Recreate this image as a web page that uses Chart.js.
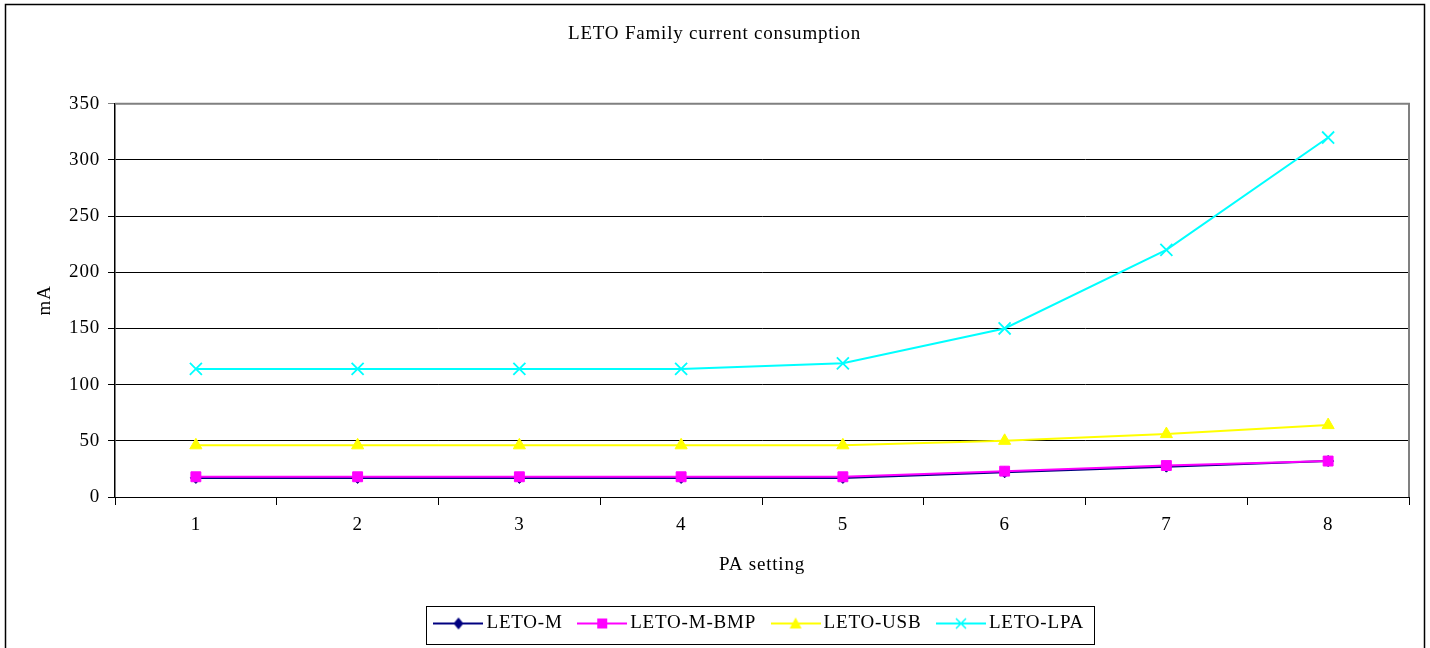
<!DOCTYPE html>
<html>
<head>
<meta charset="utf-8">
<script src="https://cdn.jsdelivr.net/npm/chart.js@4.4.0/dist/chart.umd.min.js"></script>
<style>
  html, body { margin: 0; padding: 0; background: #fff; overflow: hidden; }
  #wrap { position: absolute; left: 0; top: 0; width: 1430px; height: 648px; }
</style>
</head>
<body>
<div id="wrap"><canvas id="chart" width="1430" height="648"></canvas></div>
<script>
const categories = ['1', '2', '3', '4', '5', '6', '7', '8'];
const letoM    = [17, 17, 17, 17, 17, 22, 27, 32];
const letoMBmp = [18, 18, 18, 18, 18, 23, 28, 32];
const letoUsb  = [46, 46, 46, 46, 46, 50, 56, 64];
const letoLpa  = [114, 114, 114, 114, 119, 150, 220, 320];
const yTicks = [0, 50, 100, 150, 200, 250, 300, 350];

const FONT = 'Liberation Serif, Times New Roman, serif';
const FS = 19;
const SPACING = '0.8px';

// legend icon: short line with the marker in the middle
function legendIcon(color, style) {
  const c = document.createElement('canvas');
  c.width = 50; c.height = 14;
  const g = c.getContext('2d');
  g.strokeStyle = color; g.fillStyle = color; g.lineWidth = 2;
  g.beginPath(); g.moveTo(0, 7); g.lineTo(50, 7); g.stroke();
  const x = 25, y = 7;
  g.beginPath();
  if (style === 'diamond') {
    g.moveTo(x, y - 6); g.lineTo(x + 5, y); g.lineTo(x, y + 6); g.lineTo(x - 5, y); g.closePath(); g.fill();
  } else if (style === 'square') {
    g.fillRect(x - 5, y - 5, 10, 10);
  } else if (style === 'triangle') {
    g.moveTo(x, y - 6); g.lineTo(x + 6, y + 5); g.lineTo(x - 6, y + 5); g.closePath(); g.fill();
  } else {
    g.lineWidth = 1.5;
    g.moveTo(x - 5, y - 5); g.lineTo(x + 5, y + 5);
    g.moveTo(x + 5, y - 5); g.lineTo(x - 5, y + 5); g.stroke();
  }
  return c;
}

const series = [
  { label: 'LETO-M', data: letoM, color: '#000080', style: 'rectRot', icon: 'diamond', r: 5.5 },
  { label: 'LETO-M-BMP', data: letoMBmp, color: '#FF00FF', style: 'rect', icon: 'square', r: 7 },
  { label: 'LETO-USB', data: letoUsb, color: '#FFFF00', style: 'triangle', icon: 'triangle', r: 7 },
  { label: 'LETO-LPA', data: letoLpa, color: '#00FFFF', style: 'crossRot', icon: 'cross', r: 8.5 }
];

const frameAndBorders = {
  id: 'frameAndBorders',
  beforeUpdate(chart) {
    chart.ctx.letterSpacing = SPACING;
  },
  beforeDraw(chart) {
    const ctx = chart.ctx;
    ctx.letterSpacing = SPACING;
    ctx.save();
    ctx.fillStyle = '#fff';
    ctx.fillRect(0, 0, chart.width, chart.height);
    ctx.strokeStyle = '#000';
    ctx.lineWidth = 1.5;
    ctx.strokeRect(5.5, 4.5, 1419, 700);
    ctx.restore();
  },
  beforeDatasetsDraw(chart) {
    const a = chart.chartArea, ctx = chart.ctx;
    ctx.save();
    ctx.strokeStyle = '#808080';
    ctx.lineWidth = 2;
    ctx.beginPath();
    ctx.moveTo(a.left, a.top); ctx.lineTo(a.right, a.top); ctx.lineTo(a.right, a.bottom);
    ctx.stroke();
    ctx.restore();
  },
  afterDraw(chart) {
    const boxes = chart.legend.legendHitBoxes;
    if (!boxes || !boxes.length) return;
    const l = Math.min(...boxes.map(b => b.left)) - 13.5;
    const r = Math.max(...boxes.map(b => b.left + b.width)) + 10;
    const t = Math.min(...boxes.map(b => b.top)) - 8;
    const btm = Math.max(...boxes.map(b => b.top + b.height)) + 11;
    const ctx = chart.ctx;
    ctx.save();
    ctx.strokeStyle = '#000';
    ctx.lineWidth = 1;
    ctx.strokeRect(Math.round(l) + 0.5, Math.round(t) + 0.5, Math.round(r - l), Math.round(btm - t));
    ctx.restore();
  }
};

new Chart(document.getElementById('chart'), {
  type: 'line',
  data: {
    labels: categories,
    datasets: series.map((s, i) => ({
      label: s.label,
      data: s.data,
      borderColor: s.color,
      backgroundColor: s.color,
      borderWidth: 2,
      pointStyle: s.style,
      pointRadius: s.r,
      pointBorderColor: s.color,
      pointBackgroundColor: s.color,
      pointBorderWidth: s.style === 'crossRot' ? 1.8 : 1,
      tension: 0,
      order: series.length - i,
      legendIcon: legendIcon(s.color, s.icon)
    }))
  },
  options: {
    responsive: false,
    animation: false,
    devicePixelRatio: 1,
    layout: { padding: { left: 20, right: 21, top: 0, bottom: 5 } },
    plugins: {
      title: {
        display: true,
        text: 'LETO Family current consumption',
        color: '#000',
        font: { family: FONT, size: FS, weight: 'normal' },
        padding: { top: 23, bottom: 58 }
      },
      legend: {
        position: 'bottom',
        fullSize: false,
        labels: {
          color: '#000',
          font: { family: FONT, size: FS },
          usePointStyle: true,
          pointStyleWidth: 37,
          padding: 21,
          sort: (a, b) => a.datasetIndex - b.datasetIndex,
          generateLabels(chart) {
            return chart.data.datasets.map((ds, i) => ({
              text: ds.label,
              fillStyle: ds.borderColor,
              strokeStyle: ds.borderColor,
              fontColor: '#000',
              pointStyle: ds.legendIcon,
              lineWidth: 0,
              hidden: false,
              datasetIndex: i
            }));
          }
        }
      },
      tooltip: { enabled: false }
    },
    scales: {
      x: {
        type: 'category',
        offset: true,
        grid: { display: true, offset: true, drawOnChartArea: false, color: '#000', tickLength: 8 },
        border: { color: '#000', width: 1 },
        ticks: { color: '#000', font: { family: FONT, size: FS }, padding: 9, maxRotation: 0 },
        title: { display: true, text: 'PA setting', color: '#000', font: { family: FONT, size: FS }, padding: { top: 0, bottom: 17 } },
        afterFit(scale) { scale.height = 96; }
      },
      y: {
        min: 0,
        max: 350,
        afterBuildTicks(scale) { scale.ticks = yTicks.map(v => ({ value: v })); },
        grid: {
          color: ctx => (ctx.tick && ctx.tick.value === 350 ? '#808080' : '#000'),
          lineWidth: 1,
          tickLength: 7
        },
        border: { color: '#000', width: 1.5 },
        ticks: { color: '#000', font: { family: FONT, size: FS }, padding: 8 },
        title: { display: true, text: 'mA', color: '#000', font: { family: FONT, size: FS }, padding: { top: 14, bottom: 0 } },
        afterFit(scale) { scale.width = 95; }
      }
    }
  },
  plugins: [frameAndBorders]
});
</script>
</body>
</html>
